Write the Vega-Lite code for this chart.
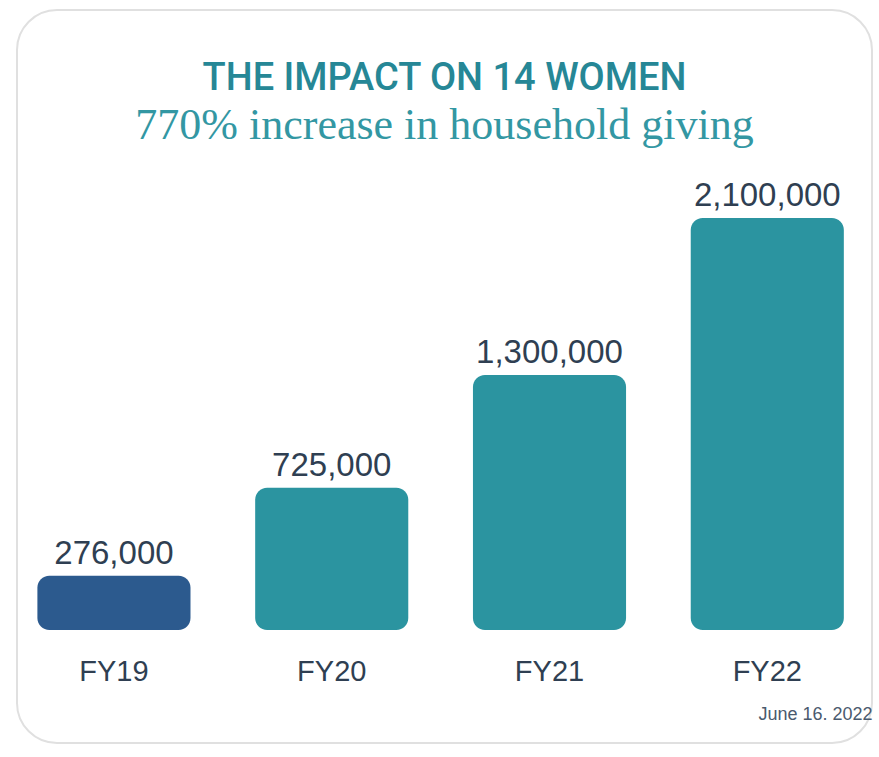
{
  "$schema": "https://vega.github.io/schema/vega-lite/v6.json",
  "width": 879,
  "height": 757,
  "autosize": {"type": "fit", "contains": "padding"},
  "padding": {"left": 17, "top": 10, "right": 7, "bottom": 14},
  "background": "white",
  "config": {"view": {"stroke": "#e0e0e0", "strokeWidth": 2, "cornerRadius": 40}},
  "title": {
    "text": "THE IMPACT ON 14 WOMEN",
    "subtitle": "770% increase in household giving",
    "anchor": "middle",
    "offset": -138,
    "font": "Roboto",
    "fontSize": 38,
    "fontWeight": 500,
    "color": "#268796",
    "subtitleFont": "Liberation Serif",
    "subtitleFontSize": 44,
    "subtitleColor": "#3397a3",
    "subtitlePadding": 6
  },
  "data": {
    "values": [
      {"year": "FY19", "amount": 276000, "group": "base"},
      {"year": "FY20", "amount": 725000, "group": "later"},
      {"year": "FY21", "amount": 1300000, "group": "later"},
      {"year": "FY22", "amount": 2100000, "group": "later"}
    ]
  },
  "encoding": {
    "x": {
      "field": "year",
      "type": "ordinal",
      "scale": {"paddingInner": 0.297, "paddingOuter": 0.1115, "align": 0.42},
      "axis": {
        "orient": "bottom",
        "offset": -88,
        "domain": false,
        "ticks": false,
        "labelAngle": 0,
        "labelFont": "Liberation Sans",
        "labelFontSize": 29,
        "labelColor": "#2f3f52",
        "labelPadding": 2,
        "title": "June 16. 2022",
        "titleFont": "Liberation Sans",
        "titleFontSize": 18,
        "titleFontWeight": "normal",
        "titleColor": "#4a5a6e",
        "titleAnchor": "end",
        "titlePadding": 19
      }
    }
  },
  "layer": [
    {
      "mark": {"type": "bar", "cornerRadius": 12},
      "encoding": {
        "y": {
          "field": "amount",
          "type": "quantitative",
          "scale": {"domain": [-576000, 3160000], "nice": false, "zero": false},
          "axis": null
        },
        "y2": {"datum": 0},
        "color": {
          "field": "group",
          "type": "nominal",
          "scale": {"domain": ["base", "later"], "range": ["#2c5a8e", "#2b94a0"]},
          "legend": null
        }
      }
    },
    {
      "mark": {
        "type": "text",
        "baseline": "alphabetic",
        "dy": -12,
        "font": "Liberation Sans",
        "fontSize": 33,
        "color": "#2f3f52"
      },
      "encoding": {
        "y": {"field": "amount", "type": "quantitative"},
        "text": {"field": "amount", "type": "quantitative", "format": ","}
      }
    }
  ]
}
